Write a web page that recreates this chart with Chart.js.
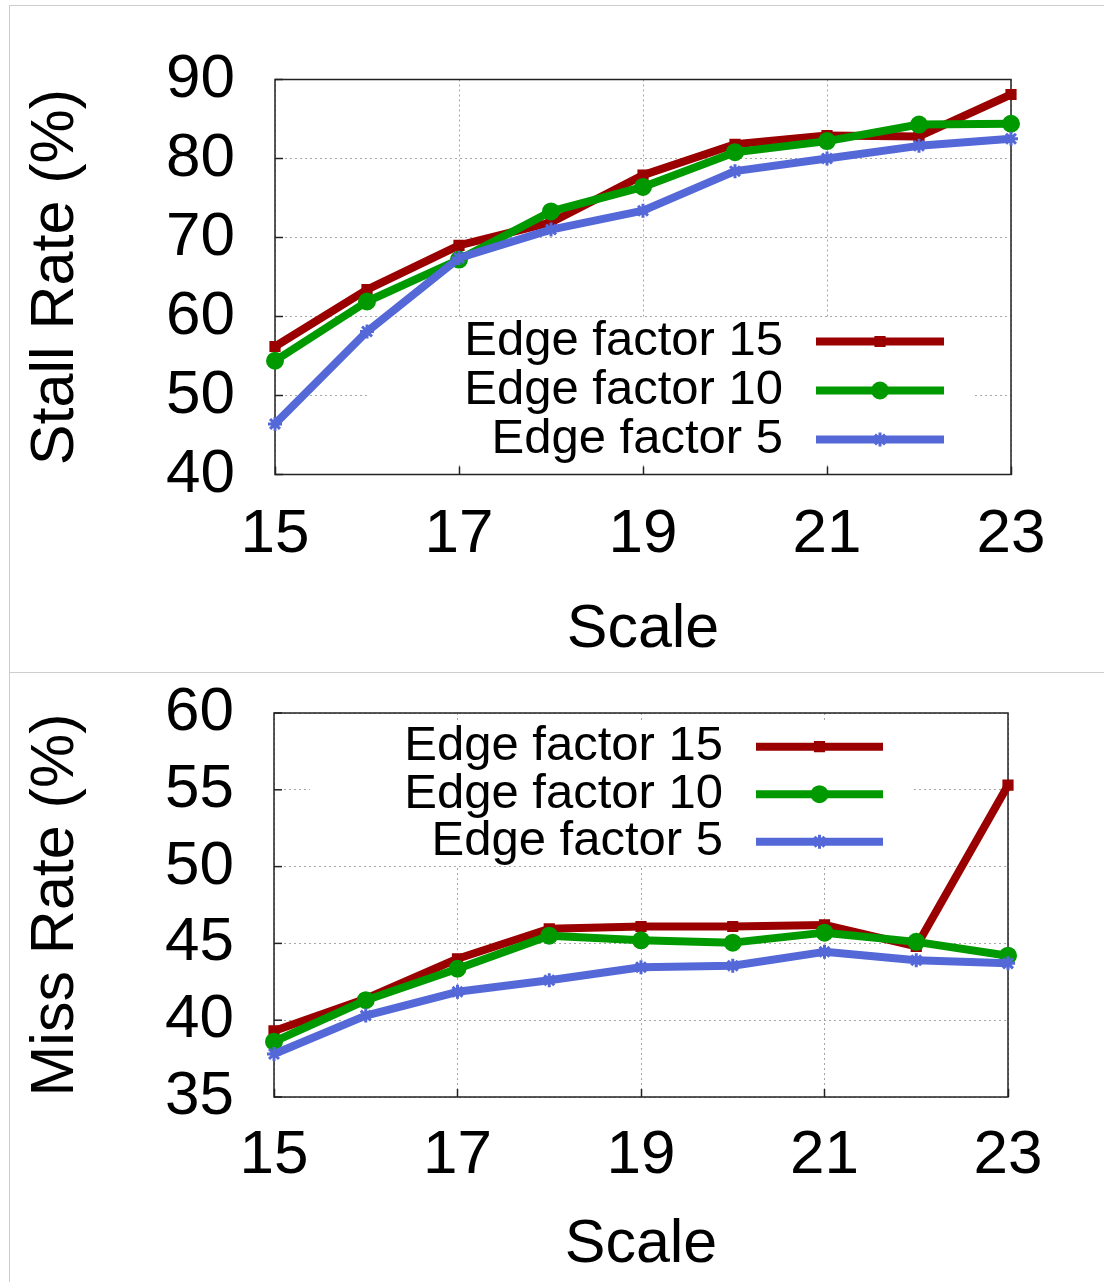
<!DOCTYPE html>
<html>
<head>
<meta charset="utf-8">
<script src="https://cdn.jsdelivr.net/npm/chart.js@4.4.1/dist/chart.umd.min.js"></script>
<style>
html,body{margin:0;padding:0;background:#fff;}
body{width:1104px;height:1282px;position:relative;overflow:hidden;font-family:"Liberation Sans",Arial,sans-serif;}
.panel{position:absolute;border-top:1px solid #cdcdcd;border-left:1px solid #cdcdcd;box-sizing:border-box;}
#p1{left:9px;top:5px;width:1095px;height:667px;}
#p2{left:9px;top:672px;width:1095px;height:610px;}
.wrap{position:absolute;left:0;width:1104px;}
#w1{top:0;height:672px;}
#w2{top:672px;height:610px;}
canvas{display:block;}
</style>
</head>
<body>
<div class="panel" id="p1"></div>
<div class="panel" id="p2"></div>
<div class="wrap" id="w1"><canvas id="c1" width="1104" height="672"></canvas></div>
<div class="wrap" id="w2"><canvas id="c2" width="1104" height="610"></canvas></div>
<script>
// ---------------- data ----------------
const scales      = [15, 16, 17, 18, 19, 20, 21, 22, 23];
const seriesNames = ['Edge factor 15', 'Edge factor 10', 'Edge factor 5'];

const stallEF15 = [56.2, 63.4, 69.0, 71.9, 77.9, 81.8, 82.9, 82.8, 88.1];
const stallEF10 = [54.4, 61.9, 67.2, 73.3, 76.4, 80.8, 82.2, 84.3, 84.4];
const stallEF5  = [46.4, 58.1, 67.4, 71.0, 73.4, 78.4, 80.0, 81.6, 82.5];

const missEF15 = [39.3, 41.4, 44.0, 45.95, 46.1, 46.1, 46.2, 44.8, 55.3];
const missEF10 = [38.6, 41.3, 43.35, 45.5, 45.2, 45.05, 45.7, 45.1, 44.2];
const missEF5  = [37.8, 40.3, 41.85, 42.6, 43.45, 43.55, 44.45, 43.9, 43.7];

const xTickValues     = [15, 17, 19, 21, 23];
const stallTickValues = [40, 50, 60, 70, 80, 90];
const missTickValues  = [35, 40, 45, 50, 55, 60];

// ---------------- styles ----------------
const RED = '#9a0000', GREEN = '#009a00', BLUE = '#5468d8';
const FONT = '"Liberation Sans", Arial, sans-serif';

function xy(values){ return scales.map((s, i) => ({x: s, y: values[i]})); }

function makeDatasets(a, b, c){
  return [
    {label: seriesNames[0], data: xy(a), borderColor: RED, backgroundColor: RED,
     pointBackgroundColor: RED, pointBorderColor: RED, pointStyle: 'rect',
     pointRadius: 6.5, pointBorderWidth: 2, order: 3},
    {label: seriesNames[1], data: xy(b), borderColor: GREEN, backgroundColor: GREEN,
     pointBackgroundColor: GREEN, pointBorderColor: GREEN, pointStyle: 'circle',
     pointRadius: 8, pointBorderWidth: 2, order: 2},
    {label: seriesNames[2], data: xy(c), borderColor: BLUE, backgroundColor: BLUE,
     pointBackgroundColor: BLUE, pointBorderColor: BLUE, pointStyle: 'star',
     pointRadius: 7, pointBorderWidth: 3, order: 1}
  ].map(d => Object.assign(d, {borderWidth: 8, tension: 0, clip: false,
      borderJoinStyle: 'round', fill: false, pointHoverRadius: d.pointRadius}));
}

// frame + inward y ticks + opaque key box + in-plot key
const framePlugin = {
  id: 'frameKey',
  beforeDatasetsDraw(chart, args, o){
    const {ctx, chartArea: a} = chart;
    const ys = chart.scales.y;
    ctx.save();
    ctx.fillStyle = '#fff';
    ctx.fillRect(o.box[0], o.box[1], o.box[2] - o.box[0], o.box[3] - o.box[1]);
    ctx.strokeStyle = '#222';
    ctx.lineWidth = 1.5;
    ys.ticks.forEach(t => {
      const py = ys.getPixelForValue(t.value);
      ctx.beginPath();
      ctx.moveTo(a.left, py);
      ctx.lineTo(a.left + 8, py);
      ctx.stroke();
    });
    ctx.strokeRect(a.left, a.top, a.right - a.left, a.bottom - a.top);
    ctx.restore();
  },
  afterDatasetsDraw(chart, args, o){
    const ctx = chart.ctx;
    chart.data.datasets.forEach((ds, i) => {
      const y = o.rowY0 + i * o.rowStep;
      ctx.save();
      ctx.font = o.fontSize + 'px ' + FONT;
      ctx.fillStyle = '#000';
      ctx.textAlign = 'right';
      ctx.textBaseline = 'middle';
      ctx.fillText(ds.label, o.textRight, y);
      ctx.strokeStyle = ds.borderColor;
      ctx.lineWidth = ds.borderWidth;
      ctx.lineCap = 'butt';
      ctx.beginPath();
      ctx.moveTo(o.lineX1, y);
      ctx.lineTo(o.lineX2, y);
      ctx.stroke();
      ctx.fillStyle = ds.pointBackgroundColor;
      ctx.strokeStyle = ds.pointBorderColor;
      ctx.lineWidth = ds.pointBorderWidth;
      Chart.helpers.drawPoint(ctx, {pointStyle: ds.pointStyle, radius: ds.pointRadius,
        borderWidth: ds.pointBorderWidth, rotation: 0}, (o.lineX1 + o.lineX2) / 2, y);
      ctx.restore();
    });
  }
};

function makeChart(canvasId, cfg){
  return new Chart(document.getElementById(canvasId), {
    type: 'line',
    data: {datasets: cfg.datasets},
    options: {
      responsive: false, animation: false, events: [],
      layout: {padding: {left: 0, top: cfg.top, right: cfg.right, bottom: 0}},
      plugins: {legend: {display: false}, tooltip: {enabled: false}, frameKey: cfg.key},
      scales: {
        x: {
          type: 'linear', min: 15, max: 23,
          afterBuildTicks: s => { s.ticks = xTickValues.map(v => ({value: v})); },
          afterFit: s => { s.height = cfg.xAxisH; },
          grid: {color: '#a6a6a6', lineWidth: 1, tickColor: '#222', tickWidth: 1.5,
                 tickLength: -8, drawTicks: true},
          border: {display: false, dash: [2, 3]},
          ticks: {color: '#000', font: {family: FONT, size: 62}, padding: cfg.xPad,
                  maxRotation: 0, autoSkip: false},
          title: {display: true, text: 'Scale', color: '#000',
                  font: {family: FONT, size: 61}, padding: {top: 0, bottom: cfg.xTitlePad}}
        },
        y: {
          type: 'linear', min: cfg.yMin, max: cfg.yMax,
          afterBuildTicks: s => { s.ticks = cfg.yTicks.map(v => ({value: v})); },
          afterFit: s => { s.width = cfg.yAxisW; },
          grid: {color: '#a6a6a6', lineWidth: 1, tickColor: 'rgba(0,0,0,0)', tickWidth: 1,
                 tickLength: 40, drawTicks: true},
          border: {display: false, dash: [2, 3]},
          ticks: {color: '#000', font: {family: FONT, size: 62}, padding: 0, autoSkip: false},
          title: {display: true, text: cfg.yTitle, color: '#000',
                  font: {family: FONT, size: 61}, padding: {top: 20, bottom: 0}}
        }
      }
    },
    plugins: [framePlugin]
  });
}

makeChart('c1', {
  datasets: makeDatasets(stallEF15, stallEF10, stallEF5),
  top: 79.5, right: 93, yAxisW: 275, xAxisH: 197.5,
  xPad: 31.5, xTitlePad: 5,
  yMin: 40, yMax: 90, yTicks: stallTickValues, yTitle: 'Stall Rate (%)',
  key: {box: [370, 318, 973, 465], rowY0: 341.5, rowStep: 49, fontSize: 49,
        textRight: 783, lineX1: 816, lineX2: 944}
});

makeChart('c2', {
  datasets: makeDatasets(missEF15, missEF10, missEF5),
  top: 41, right: 96, yAxisW: 274, xAxisH: 185,
  xPad: 29.5, xTitlePad: 0,
  yMin: 35, yMax: 60, yTicks: missTickValues, yTitle: 'Miss Rate (%)',
  key: {box: [310, 50, 912, 194], rowY0: 74.7, rowStep: 47.5, fontSize: 49,
        textRight: 723, lineX1: 756, lineX2: 883}
});
</script>
</body>
</html>
